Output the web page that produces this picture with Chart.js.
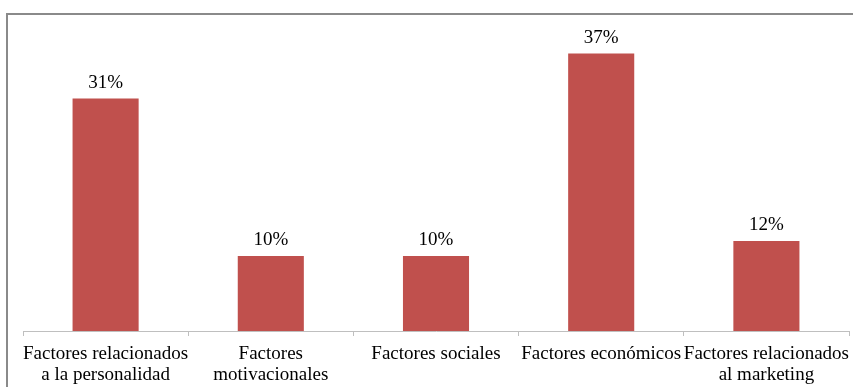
<!DOCTYPE html>
<html>
<head>
<meta charset="utf-8">
<script src="https://cdn.jsdelivr.net/npm/chart.js@4"></script>
<style>
  html, body { margin: 0; padding: 0; background: #fff; }
  canvas { display: block; }
</style>
</head>
<body>
<canvas id="chart" width="853" height="387"></canvas>
<script>
// --- data ---
const categories = [
    ['Factores relacionados', 'a la personalidad'],
    ['Factores', 'motivacionales'],
    'Factores sociales',
    'Factores económicos',
    ['Factores relacionados', 'al marketing']
];
const percentages = [31, 10, 10, 37, 12];
const valueLabels = ['31%', '10%', '10%', '37%', '12%'];

const FONT = '"Liberation Serif", "Times New Roman", serif';

// outer frame (top + left edges only are visible in the picture)
const framePlugin = {
    id: 'frame',
    beforeDraw(chart) {
        const ctx = chart.ctx;
        ctx.save();
        ctx.strokeStyle = '#8a8a8a';
        ctx.lineWidth = 2;
        ctx.beginPath();
        ctx.moveTo(7, 387);
        ctx.lineTo(7, 14);
        ctx.lineTo(853, 14);
        ctx.stroke();
        ctx.restore();
    }
};

// percentage labels above each bar
const valueLabelPlugin = {
    id: 'valueLabels',
    afterDatasetsDraw(chart) {
        const ctx = chart.ctx;
        const meta = chart.getDatasetMeta(0);
        ctx.save();
        ctx.font = '19px ' + FONT;
        ctx.fillStyle = '#000';
        ctx.textAlign = 'center';
        ctx.textBaseline = 'alphabetic';
        meta.data.forEach((bar, i) => {
            ctx.fillText(valueLabels[i], bar.x, bar.y - 11);
        });
        ctx.restore();
    }
};

new Chart(document.getElementById('chart').getContext('2d'), {
    type: 'bar',
    data: {
        labels: categories,
        datasets: [{
            data: percentages,
            backgroundColor: '#c0504d',
            borderWidth: 0,
            barPercentage: 0.4,
            categoryPercentage: 1.0
        }]
    },
    options: {
        responsive: false,
        animation: false,
        layout: { padding: { left: 23, right: 4, top: 31, bottom: 0 } },
        plugins: {
            legend: { display: false },
            tooltip: { enabled: false }
        },
        scales: {
            x: {
                afterFit(scale) {
                    scale.height = 56;
                    scale.paddingLeft = 0;
                    scale.paddingRight = 0;
                },
                grid: {
                    drawOnChartArea: false,
                    drawTicks: true,
                    tickLength: 5,
                    color: '#bfbfbf',
                    offset: true
                },
                border: { color: '#bfbfbf', width: 1 },
                ticks: {
                    color: '#000',
                    padding: 8,
                    maxRotation: 0,
                    autoSkip: false,
                    font: { family: FONT, size: 19, lineHeight: 1.1 }
                }
            },
            y: {
                display: false,
                min: 0,
                max: 40
            }
        }
    },
    plugins: [framePlugin, valueLabelPlugin]
});
</script>
</body>
</html>
